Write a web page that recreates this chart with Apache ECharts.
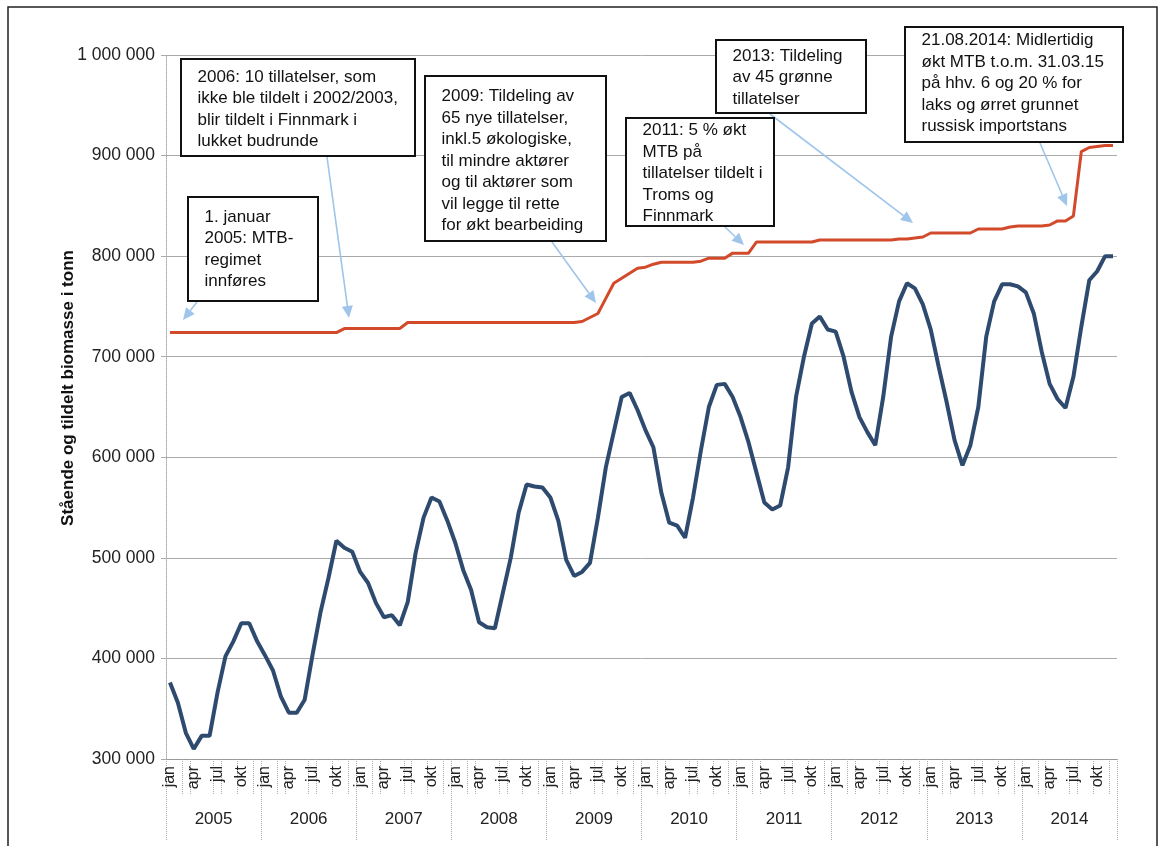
<!DOCTYPE html>
<html><head><meta charset="utf-8">
<script src="https://cdn.jsdelivr.net/npm/echarts@6/dist/echarts.min.js"></script>
<style>html,body{margin:0;padding:0;background:#fff}#c{width:1164px;height:846px}</style>
</head><body><div id="c"></div>
<script>
const years = ['2005','2006','2007','2008','2009','2010','2011','2012','2013','2014'];
const monthNames = ['jan','feb','mar','apr','mai','jun','jul','aug','sep','okt','nov','des'];
const yTicks = [300000, 400000, 500000, 600000, 700000, 800000, 900000, 1000000];

// Stående biomasse (tonn), monthly 2005-2014
const standing = [
  376000, 356000, 326000, 310000, 323000, 323000, 366000, 402000, 417000, 435000, 435000, 417000,
  403000, 388000, 362000, 346000, 346000, 359000, 404000, 446000, 480000, 517000, 510000, 506000,
  486000, 475000, 455000, 441000, 443000, 433000, 456000, 505000, 540000, 560000, 556000, 537000,
  515000, 488000, 468000, 436000, 431000, 430000, 465000, 500000, 545000, 573000, 571000, 570000,
  560000, 537000, 498000, 482000, 486000, 495000, 540000, 590000, 625000, 660000, 664000, 647000,
  627000, 610000, 565000, 535000, 532000, 520000, 560000, 607000, 650000, 672000, 673000, 660000,
  640000, 615000, 585000, 555000, 548000, 552000, 590000, 660000, 700000, 733000, 740000, 727000,
  725000, 700000, 665000, 640000, 625000, 612000, 660000, 720000, 755000, 773000, 768000, 752000,
  727000, 690000, 655000, 617000, 592000, 612000, 650000, 720000, 755000, 772000, 772000, 770000,
  764000, 743000, 705000, 673000, 658000, 649000, 680000, 730000, 776000, 785000, 800000, 800000
];
// Tildelt biomasse (MTB, tonn)
const allocated = [
  724000, 724000, 724000, 724000, 724000, 724000, 724000, 724000, 724000, 724000, 724000, 724000,
  724000, 724000, 724000, 724000, 724000, 724000, 724000, 724000, 724000, 724000, 728000, 728000,
  728000, 728000, 728000, 728000, 728000, 728000, 734000, 734000, 734000, 734000, 734000, 734000,
  734000, 734000, 734000, 734000, 734000, 734000, 734000, 734000, 734000, 734000, 734000, 734000,
  734000, 734000, 734000, 734000, 735000, 739000, 743000, 758000, 773000, 778000, 783000, 788000,
  789000, 792000, 794000, 794000, 794000, 794000, 794000, 795000, 798000, 798000, 798000, 803000,
  803000, 803000, 814000, 814000, 814000, 814000, 814000, 814000, 814000, 814000, 816000, 816000,
  816000, 816000, 816000, 816000, 816000, 816000, 816000, 816000, 817000, 817000, 818000, 819000,
  823000, 823000, 823000, 823000, 823000, 823000, 827000, 827000, 827000, 827000, 829000, 830000,
  830000, 830000, 830000, 831000, 835000, 835000, 840000, 904000, 908000, 909000, 910000, 910000
];

const notes = [
  {x:181, y:59, w:234, h:97, ty:18, lines:['2006: 10 tillatelser, som','ikke ble tildelt i 2002/2003,','blir tildelt i Finnmark i','lukket budrunde'], from:[327,157], to:[349,318]},
  {x:188, y:197, w:130, h:104, ty:20, lines:['1. januar','2005: MTB-','regimet','innføres'], from:[197,302], to:[183,320]},
  {x:425, y:76, w:181, h:165, ty:20.5, lines:['2009: Tildeling av','65 nye tillatelser,','inkl.5 økologiske,','til mindre aktører','og til aktører som','vil legge til rette','for økt bearbeiding'], from:[552,242], to:[596,303]},
  {x:626, y:118, w:148, h:108, ty:12.5, lines:['2011: 5 % økt','MTB på','tillatelser tildelt i','Troms og','Finnmark'], from:[725,227], to:[744,245]},
  {x:716, y:40, w:150, h:73, ty:16, lines:['2013: Tildeling','av 45 grønne','tillatelser'], from:[770,114], to:[913,223]},
  {x:905, y:27, w:218, h:115, ty:13.5, lines:['21.08.2014: Midlertidig','økt MTB t.o.m. 31.03.15','på hhv. 6 og 20 % for','laks og ørret grunnet','russisk importstans'], from:[1040,143], to:[1067,206]}
];

const months = [];
years.forEach(y => monthNames.forEach(m => months.push(y + '-' + m)));

const FONT = 'Liberation Sans, Arial, sans-serif';
const LH = 21.5;
const graphics = [];
graphics.push({type:'rect', shape:{x:8, y:7, width:1149, height:900}, style:{fill:'none', stroke:'#222', lineWidth:1.5}, z:1});
graphics.push({type:'text', x:68, y:388, rotation:Math.PI/2, style:{text:'Stående og tildelt biomasse i tonn', font:'bold 17px ' + FONT, fill:'#111', align:'center', verticalAlign:'middle'}});
notes.forEach(n => {
  const [x1,y1] = n.from, [x2,y2] = n.to;
  const a = Math.atan2(y2-y1, x2-x1), L = 12, W = 5.5;
  const bx = x2 - L*Math.cos(a), by = y2 - L*Math.sin(a);
  graphics.push({type:'line', shape:{x1:x1, y1:y1, x2:bx, y2:by}, style:{stroke:'#9fc5ea', lineWidth:1.6}, z:20});
  graphics.push({type:'polygon', shape:{points:[[x2,y2],[bx+W*Math.sin(a), by-W*Math.cos(a)],[bx-W*Math.sin(a), by+W*Math.cos(a)]]}, style:{fill:'#9fc5ea'}, z:20});
  graphics.push({type:'rect', shape:{x:n.x, y:n.y, width:n.w, height:n.h}, style:{fill:'#fff', stroke:'#111', lineWidth:2}, z:30});
  graphics.push({type:'text', x:n.x + 16.5, y:n.y + n.ty - LH/2, style:{text:n.lines.join('\n'), font:'17px ' + FONT, lineHeight:LH, fill:'#111', verticalAlign:'top'}, z:31});
});

const chart = echarts.init(document.getElementById('c'), null, {renderer:'canvas'});
chart.setOption({
  animation:false,
  backgroundColor:'#fff',
  grid:{left:166, right:47, top:55, bottom:87},
  xAxis:[
    {type:'category', data:months, boundaryGap:true, position:'bottom',
     axisLine:{show:true, lineStyle:{color:'#999', width:1}},
     axisTick:{show:true, length:36, interval:function(i){const k=i%12; return [0,2,3,6,7,9,11].indexOf(k)>=0;}, lineStyle:{color:'#aaa', type:'dotted', width:1}},
     axisLabel:{interval:2, rotate:90, margin:7, fontSize:16, fontFamily:FONT, color:'#222', formatter:v=>v.split('-')[1]},
     splitLine:{show:false}},
    {type:'category', data:years, boundaryGap:true, position:'bottom', gridIndex:0,
     axisLine:{show:false},
     axisTick:{show:true, length:81, interval:0, lineStyle:{color:'#aaa', type:'dotted', width:1}},
     axisLabel:{interval:0, margin:52, fontSize:17, fontFamily:FONT, color:'#222'},
     splitLine:{show:false}}
  ],
  yAxis:{type:'value', min:yTicks[0], max:yTicks[yTicks.length-1], interval:yTicks[1]-yTicks[0],
    axisLine:{show:true, lineStyle:{color:'#aaa', type:'dotted'}},
    axisTick:{show:true, length:5, lineStyle:{color:'#aaa'}},
    axisLabel:{margin:11, fontSize:17.5, fontFamily:FONT, color:'#222', formatter:v=>String(v).replace(/\B(?=(\d{3})+(?!\d))/g,' ')},
    splitLine:{show:true, lineStyle:{color:'#aaa', width:1}}},
  series:[
    {name:'Stående biomasse', type:'line', data:standing, xAxisIndex:0, symbol:'none', lineStyle:{color:'#2e4a6f', width:4}, z:5},
    {name:'Tildelt biomasse', type:'line', data:allocated, xAxisIndex:0, symbol:'none', lineStyle:{color:'#d24a2a', width:3}, z:6}
  ],
  graphic:graphics
});
</script></body></html>
